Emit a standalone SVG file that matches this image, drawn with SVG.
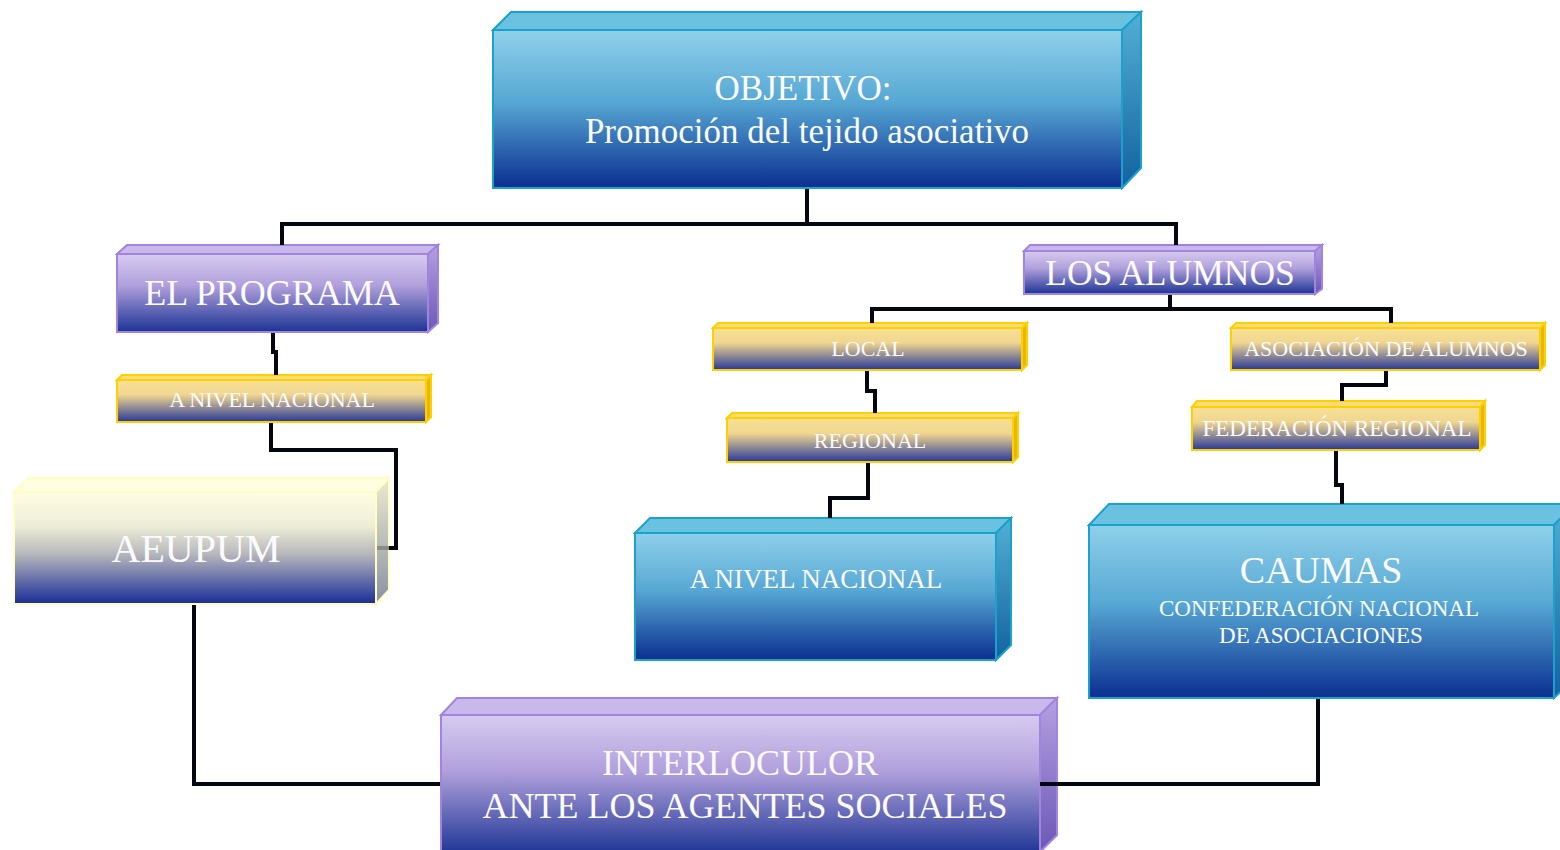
<svg xmlns="http://www.w3.org/2000/svg" width="1560" height="850" viewBox="0 0 1560 850">
<defs>
<linearGradient id="gBlue" x1="0" y1="0" x2="0" y2="1">
<stop offset="0" stop-color="#8fd0ea"/><stop offset="0.45" stop-color="#57a8d4"/><stop offset="1" stop-color="#0b2e90"/>
</linearGradient>
<linearGradient id="gBlueSide" x1="0" y1="0" x2="0" y2="1">
<stop offset="0" stop-color="#52b0d4"/><stop offset="1" stop-color="#1262a0"/>
</linearGradient>
<linearGradient id="gPurple" x1="0" y1="0" x2="0" y2="1">
<stop offset="0" stop-color="#d6cbf0"/><stop offset="0.4" stop-color="#b1a0dc"/><stop offset="1" stop-color="#1c3494"/>
</linearGradient>
<linearGradient id="gPurpleSide" x1="0" y1="0" x2="0" y2="1">
<stop offset="0" stop-color="#b4a0e0"/><stop offset="1" stop-color="#6a58b8"/>
</linearGradient>
<linearGradient id="gYellow" x1="0" y1="0" x2="0" y2="1">
<stop offset="0" stop-color="#f8e094"/><stop offset="0.35" stop-color="#f0d690"/><stop offset="1" stop-color="#27389a"/>
</linearGradient>
<linearGradient id="gCream" x1="0" y1="0" x2="0" y2="1">
<stop offset="0" stop-color="#fffde2"/><stop offset="0.3" stop-color="#eeeed8"/><stop offset="0.55" stop-color="#b8b8bc"/><stop offset="1" stop-color="#1a2c96"/>
</linearGradient>
<linearGradient id="gCreamSide" x1="0" y1="0" x2="0" y2="1">
<stop offset="0" stop-color="#ecebd0"/><stop offset="1" stop-color="#8890a4"/>
</linearGradient>
</defs>
<style>
.conn{fill:none;stroke:#05070f;stroke-width:4}
.connDim{fill:none;stroke:#8c8c84;stroke-width:4}
.bF{fill:url(#gBlue);stroke:#18a2cc;stroke-width:2}
.bT{fill:#6ac2e0;stroke:#18a2cc;stroke-width:2}
.bS{fill:url(#gBlueSide);stroke:#18a2cc;stroke-width:2}
.pF{fill:url(#gPurple);stroke:#a283e0;stroke-width:2}
.pT{fill:#c9b8ec;stroke:#a283e0;stroke-width:2}
.pS{fill:url(#gPurpleSide);stroke:#a283e0;stroke-width:2}
.yF{fill:url(#gYellow);stroke:#ffd000;stroke-width:2}
.yT{fill:#f8dc78;stroke:#ffd000;stroke-width:2}
.yS{fill:#e8b800;stroke:#ffd000;stroke-width:2}
.cF{fill:url(#gCream);stroke:#ffffc4;stroke-width:2}
.cT{fill:#fffee0;stroke:#ffffc4;stroke-width:2}
.cS{fill:url(#gCreamSide);stroke:#ffffc4;stroke-width:2}
text{font-family:"Liberation Serif","DejaVu Serif",serif;fill:#fbfbff;text-anchor:middle}
.t35{font-size:35px}
.t36{font-size:36px}
.t22{font-size:22px}
</style>
<g id="objetivo">
<polygon class="bT" points="493,30 511,12 1141,12 1122,30"/>
<polygon class="bS" points="1122,30 1141,12 1141,168 1122,188"/>
<rect class="bF" x="493" y="30" width="629" height="158"/>
<text class="t35" x="803" y="100">OBJETIVO:</text>
<text class="t35" x="807" y="143">Promoción del tejido asociativo</text>
</g>
<g id="el-programa">
<polygon class="pT" points="117,254 127,245 438,245 428,254"/>
<polygon class="pS" points="428,254 438,245 438,323 428,332"/>
<rect class="pF" x="117" y="254" width="311" height="78"/>
<text x="272" y="305" style="font-size:36px">EL PROGRAMA</text>
</g>
<g id="nivel-nacional-izq">
<polygon class="yT" points="117,380 122,375 431,375 426,380"/>
<polygon class="yS" points="426,380 431,375 431,417 426,422"/>
<rect class="yF" x="117" y="380" width="309" height="42"/>
<text class="t22" x="272" y="407">A NIVEL NACIONAL</text>
</g>
<g id="aeupum">
<polygon class="cT" points="14,492 29,478 389,478 376,492"/>
<polygon class="cS" points="376,492 389,478 389,590 376,604"/>
<rect class="cF" x="14" y="492" width="362" height="112"/>
<text x="196" y="562" style="font-size:40px">AEUPUM</text>
</g>
<g id="los-alumnos">
<polygon class="pT" points="1024,251 1030,245 1322,245 1315,251"/>
<polygon class="pS" points="1315,251 1322,245 1322,289 1315,294"/>
<rect class="pF" x="1024" y="251" width="291" height="43"/>
<text x="1170" y="285" style="font-size:35.5px">LOS ALUMNOS</text>
</g>
<g id="local">
<polygon class="yT" points="713,328 718,323 1027,323 1022,328"/>
<polygon class="yS" points="1022,328 1027,323 1027,365 1022,370"/>
<rect class="yF" x="713" y="328" width="309" height="42"/>
<text class="t22" x="868" y="356">LOCAL</text>
</g>
<g id="regional">
<polygon class="yT" points="727,418 732,413 1018,413 1013,418"/>
<polygon class="yS" points="1013,418 1018,413 1018,457 1013,462"/>
<rect class="yF" x="727" y="418" width="286" height="44"/>
<text class="t22" x="870" y="448">REGIONAL</text>
</g>
<g id="nivel-nacional">
<polygon class="bT" points="635,533 650,518 1011,518 996,533"/>
<polygon class="bS" points="996,533 1011,518 1011,645 996,660"/>
<rect class="bF" x="635" y="533" width="361" height="127"/>
<text x="816" y="588" style="font-size:27px">A NIVEL NACIONAL</text>
</g>
<g id="asociacion">
<polygon class="yT" points="1231,328 1236,323 1545,323 1540,328"/>
<polygon class="yS" points="1540,328 1545,323 1545,365 1540,370"/>
<rect class="yF" x="1231" y="328" width="309" height="42"/>
<text class="t22" x="1386" y="356">ASOCIACIÓN DE ALUMNOS</text>
</g>
<g id="federacion">
<polygon class="yT" points="1192,407 1197,401 1485,401 1480,407"/>
<polygon class="yS" points="1480,407 1485,401 1485,445 1480,450"/>
<rect class="yF" x="1192" y="407" width="288" height="43"/>
<text x="1337" y="436" style="font-size:23px">FEDERACIÓN REGIONAL</text>
</g>
<g id="caumas">
<polygon class="bT" points="1089,525 1109,504 1575,504 1554,525"/>
<polygon class="bS" points="1554,525 1575,504 1575,678 1554,698"/>
<rect class="bF" x="1089" y="525" width="465" height="173"/>
<text x="1321" y="583" style="font-size:38px">CAUMAS</text>
<text x="1319" y="616" style="font-size:23px">CONFEDERACIÓN NACIONAL</text>
<text x="1321" y="643" style="font-size:23px">DE ASOCIACIONES</text>
</g>
<g id="interlocutor">
<polygon class="pT" points="441,715 457,698 1057,698 1040,715"/>
<polygon class="pS" points="1040,715 1057,698 1057,835 1040,852"/>
<rect class="pF" x="441" y="715" width="599" height="140"/>
<text class="t36" x="740" y="775">INTERLOCULOR</text>
<text class="t36" x="745" y="818">ANTE LOS AGENTES SOCIALES</text>
</g>
<g id="connectors">
<polyline class="conn" points="807,189 807,224"/>
<polyline class="conn" points="282,245 282,224 1176,224 1176,245"/>
<polyline class="conn" points="273,333 273,352 276,352 276,375"/>
<polyline class="conn" points="271,423 271,450 396,450 396,548 389,548"/>
<polyline class="connDim" points="389,548 377,548"/>
<polyline class="conn" points="194,605 194,784 440,784"/>
<polyline class="conn" points="1040,784 1318,784 1318,699"/>
<polyline class="conn" points="1170,295 1170,309"/>
<polyline class="conn" points="872,323 872,309 1391,309 1391,323"/>
<polyline class="conn" points="867,371 867,391 875,391 875,413"/>
<polyline class="conn" points="868,463 868,498 830,498 830,518"/>
<polyline class="conn" points="1386,371 1386,385 1342,385 1342,401"/>
<polyline class="conn" points="1336,451 1336,485 1342,485 1342,504"/>
</g>
</svg>
